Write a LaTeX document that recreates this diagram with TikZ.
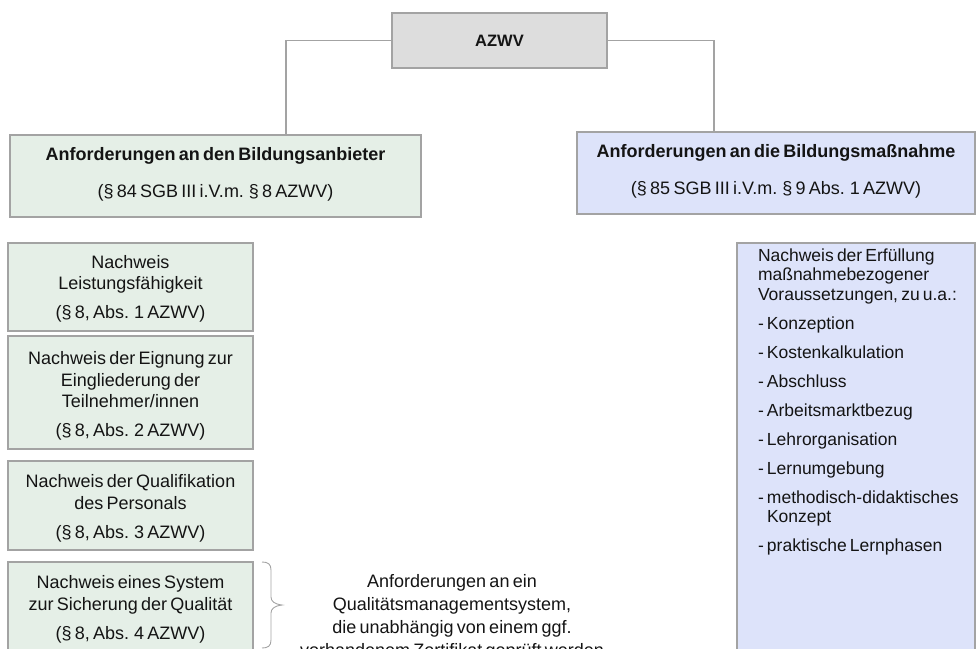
\documentclass[tikz,border=0pt]{standalone}
\usepackage{fontspec}
\setmainfont{Liberation Sans}[WordSpace=0.65]
\definecolor{gfill}{RGB}{229,239,231}
\definecolor{bfill}{RGB}{221,227,250}
\definecolor{afill}{RGB}{221,221,221}
\definecolor{bord}{RGB}{163,163,163}
\definecolor{txtc}{RGB}{20,20,20}
\begin{document}
\begin{tikzpicture}[x=1pt,y=-1pt,
  conn/.style={draw=bord, line width=1.1pt},
  basebox/.style={draw=bord, line width=1.2pt, inner sep=0pt, outer sep=0pt},
  gbox/.style={basebox, fill=gfill},
  bbox/.style={basebox, fill=bfill},
  abox/.style={basebox, fill=afill},
  txt/.style={text=txtc, inner sep=0pt, outer sep=0pt, align=center, anchor=base,
    font=\fontsize{18}{21.5}\selectfont},
  btxt/.style={txt, font=\fontsize{18}{21.5}\selectfont\bfseries},
  ltxt/.style={text=txtc, inner sep=0pt, outer sep=0pt, align=left, anchor=base west,
    font=\fontsize{17.5}{19.5}\selectfont}
]
\useasboundingbox (0,0) rectangle (976,648);
\clip (0,0) rectangle (976,648);

% top box
\node[abox, minimum width=215pt, minimum height=55pt] (azwv) at (499.5,40.5) {};
\node[btxt, anchor=center, font=\fontsize{16.5}{20}\selectfont\bfseries] (azwvt) at (azwv.center) {AZWV};

% big boxes (text nodes are placed by the baseline of their last line)
\node[gbox, minimum width=411pt, minimum height=82pt] (gbig) at (215.5,176) {};
\node[btxt] (gbigt) at (215.5,197) {Anforderungen an den Bildungsanbieter\\[15pt]
  \mdseries(§ 84 SGB III i.V.m. § 8 AZWV)};

\node[bbox, minimum width=398pt, minimum height=82pt] (bbig) at (776,173) {};
\node[btxt] (bbigt) at (776,194) {Anforderungen an die Bildungsmaßnahme\\[15pt]
  \mdseries(§ 85 SGB III i.V.m. § 9 Abs. 1 AZWV)};

% connectors
\draw[conn] (azwv.west) -| ([xshift=70.5pt]gbig.north);
\draw[conn] (azwv.east) -| ([xshift=-62pt]bbig.north);

% small green boxes
\node[gbox, minimum width=245pt, minimum height=88pt] (s1) at (130.5,287) {};
\node[txt] (s1t) at (130.5,318.5) {Nachweis\\Leistungsfähigkeit\\[7.5pt](§ 8, Abs. 1 AZWV)};

\node[gbox, minimum width=245pt, minimum height=113pt] (s2) at (130.5,392.5) {};
\node[txt] (s2t) at (130.5,436.5) {Nachweis der Eignung zur\\Eingliederung der\\Teilnehmer/innen\\[7.5pt](§ 8, Abs. 2 AZWV)};

\node[gbox, minimum width=245pt, minimum height=89pt] (s3) at (130.5,505.5) {};
\node[txt] (s3t) at (130.5,538) {Nachweis der Qualifikation\\des Personals\\[7.5pt](§ 8, Abs. 3 AZWV)};

\node[gbox, minimum width=245pt, minimum height=100pt] (s4) at (130.5,612) {};
\node[txt] (s4t) at (130.5,639) {Nachweis eines System\\zur Sicherung der Qualität\\[7.5pt](§ 8, Abs. 4 AZWV)};

% brace
\draw[conn, line width=0.9pt] (262,562) .. controls (268,562) and (271,564) .. (271,570)
  -- (271,597) .. controls (271,601) and (274,604) .. (282,605)
  .. controls (274,606) and (271,609) .. (271,613)
  -- (271,640) .. controls (271,646) and (268,648) .. (262,648);

\node[txt, font=\fontsize{18}{23}\selectfont] (qm) at (452,656) {Anforderungen an ein\\Qualitätsmanagementsystem,\\die unabhängig von einem ggf.\\vorhandenem Zertifikat geprüft werden};

% right box
\node[bbox, minimum width=238pt, minimum height=457pt] (rb) at (856,471.5) {};
\node[ltxt] (rbt) at (758,551.5) {Nachweis der Erfüllung\\maßnahmebezogener\\Voraussetzungen, zu u.a.:\\[9.5pt]
- Konzeption\\[9.5pt]
- Kostenkalkulation\\[9.5pt]
- Abschluss\\[9.5pt]
- Arbeitsmarktbezug\\[9.5pt]
- Lehrorganisation\\[9.5pt]
- Lernumgebung\\[9.5pt]
- methodisch-didaktisches\\\hphantom{- }Konzept\\[9.5pt]
- praktische Lernphasen};
\end{tikzpicture}
\end{document}
